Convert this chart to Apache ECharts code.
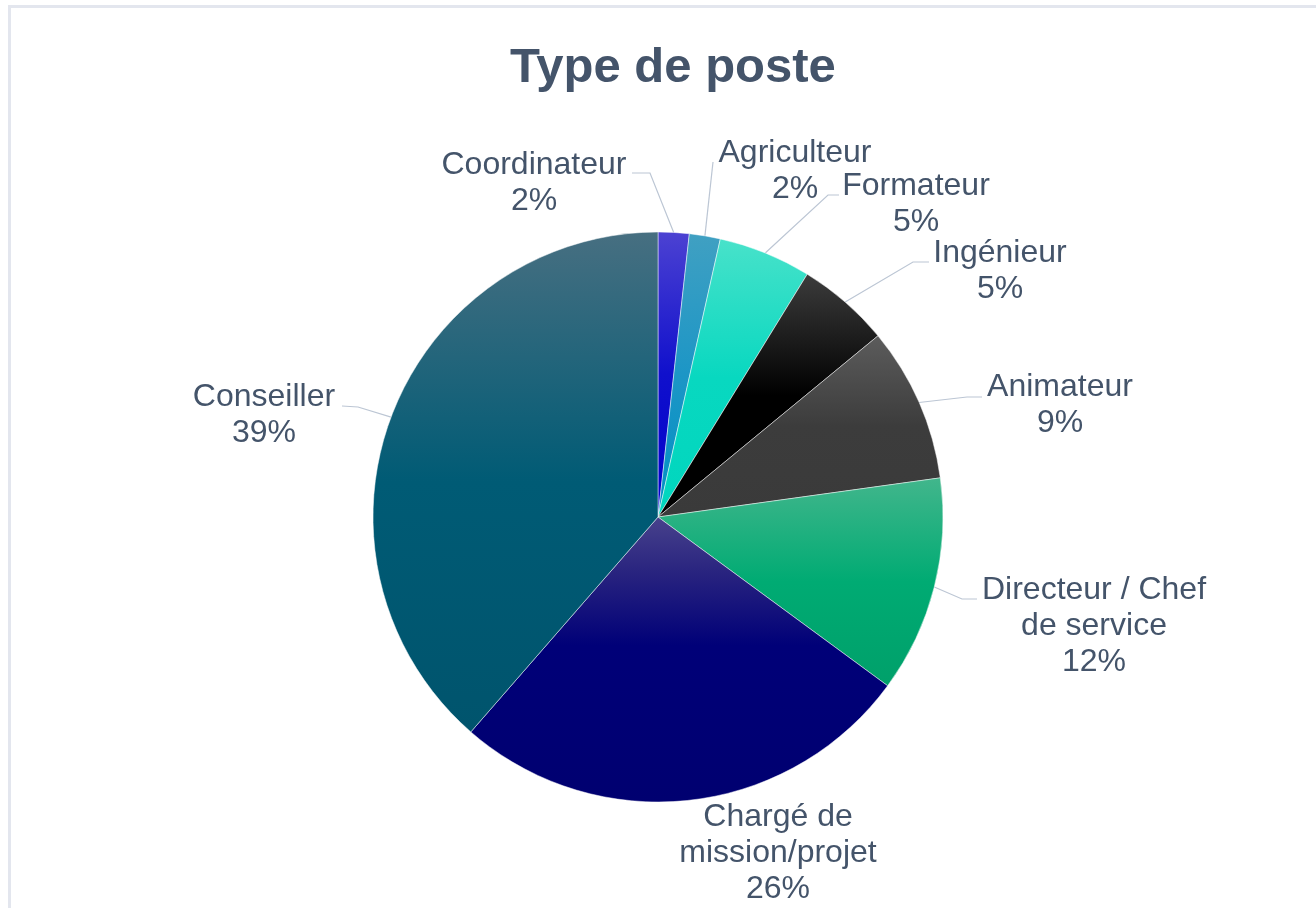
<!DOCTYPE html>
<html>
<head>
<meta charset="utf-8">
<script src="https://cdn.jsdelivr.net/npm/echarts@6/dist/echarts.min.js"></script>
<style>
  html, body { margin: 0; padding: 0; background: #fff; }
  #frame { position: absolute; left: 8px; top: 5px; width: 1400px; height: 1000px; border: 3px solid #e3e6ee; }
  #main { position: absolute; left: 0; top: 0; width: 1316px; height: 908px; }
</style>
</head>
<body>
<div id="frame"></div>
<div id="main"></div>
<script>
// type de poste (effectifs)
const categories = ['Coordinateur', 'Agriculteur', 'Formateur', 'Ingénieur', 'Animateur',
  'Directeur / Chef de service', 'Chargé de mission/projet', 'Conseiller']
const counts = [1, 1, 3, 3, 5, 7, 15, 22]

// dégradés vertical (haut -> bas) de chaque part
const gradients = [
  [[0, '#4c42d2'], [0.5, '#1010cc'], [1, '#0000cc']],
  [[0, '#40a0c2'], [0.5, '#1c96c6'], [1, '#0090c4']],
  [[0, '#48e2ca'], [0.5, '#08d8c0'], [1, '#00d6be']],
  [[0, '#3c3c3c'], [0.5, '#000000'], [1, '#000000']],
  [[0, '#5c5c5c'], [0.5, '#3c3c3c'], [1, '#3a3a3a']],
  [[0, '#42b68c'], [0.5, '#00ab73'], [1, '#00a06a']],
  [[0, '#48428c'], [0.2, '#28237f'], [0.45, '#000078'], [1, '#000070']],
  [[0, '#476f81'], [0.5, '#005b75'], [1, '#00546d']]
]

// placement des étiquettes (centre du texte) et coudes des lignes de rappel
const labelSpots = [
  { cx: 534, cy: 183, line: [[650, 173], [632, 173]] },
  { cx: 795, cy: 171, line: [[713, 162]] },
  { cx: 916, cy: 204, line: [[828, 195], [839, 195]] },
  { cx: 1000, cy: 271, line: [[913, 262], [929, 262]] },
  { cx: 1060, cy: 405, line: [[967, 397], [982, 397]] },
  { cx: 1094, cy: 626, line: [[962, 599], [977, 599]] },
  { cx: 778, cy: 853, line: null },
  { cx: 264, cy: 415, line: [[358, 407], [342, 406]] }
]

const wrapName = (name) => {
  const words = name.split(' ')
  const lines = []
  let cur = ''
  words.forEach(w => {
    if (cur && (cur + ' ' + w).length > 16) {
      lines.push(cur)
      cur = w
    } else {
      cur = cur ? cur + ' ' + w : w
    }
  })
  if (cur) lines.push(cur)
  return lines
}

const FONT = 'Liberation Sans, Arial, sans-serif'

const chart = echarts.init(document.getElementById('main'))

const option = {
  animation: false,
  title: {
    text: 'Type de poste',
    left: 505,
    top: 39,
    textStyle: {
      fontFamily: FONT,
      fontSize: 49,
      fontWeight: 'bold',
      color: '#44546a'
    }
  },
  series: [
    {
      type: 'pie',
      center: [658, 517],
      radius: 285,
      startAngle: 90,
      clockwise: true,
      data: categories.map((name, i) => ({
        name: name,
        value: counts[i],
        itemStyle: {
          color: new echarts.graphic.LinearGradient(0, 0, 0, 1,
            gradients[i].map(s => ({ offset: s[0], color: s[1] })))
        },
        labelLine: { show: !!labelSpots[i].line }
      })),
      itemStyle: {
        borderColor: 'rgba(255,255,255,0.6)',
        borderWidth: 0.8
      },
      label: {
        show: true,
        position: 'outside',
        fontFamily: FONT,
        fontSize: 32,
        color: '#44546a',
        lineHeight: 36,
        formatter: (p) => {
          const lines = wrapName(p.name)
          lines.push(Math.round(p.percent) + '%')
          return lines.map(l => '{c|' + l + '}').join('\n')
        },
        rich: {
          c: {
            align: 'center',
            fontFamily: FONT,
            fontSize: 32,
            lineHeight: 36,
            color: '#44546a'
          }
        }
      },
      labelLine: {
        show: true,
        length: 20,
        length2: 15,
        lineStyle: {
          color: '#bcc6d4',
          width: 1.2
        }
      },
      labelLayout: (params) => {
        const spot = labelSpots[params.dataIndex]
        const out = {
          x: spot.cx,
          y: spot.cy,
          align: 'center',
          verticalAlign: 'middle'
        }
        if (spot.line && params.labelLinePoints) {
          out.labelLinePoints = [params.labelLinePoints[0]].concat(spot.line)
        }
        return out
      }
    }
  ]
}

chart.setOption(option)
</script>
</body>
</html>
